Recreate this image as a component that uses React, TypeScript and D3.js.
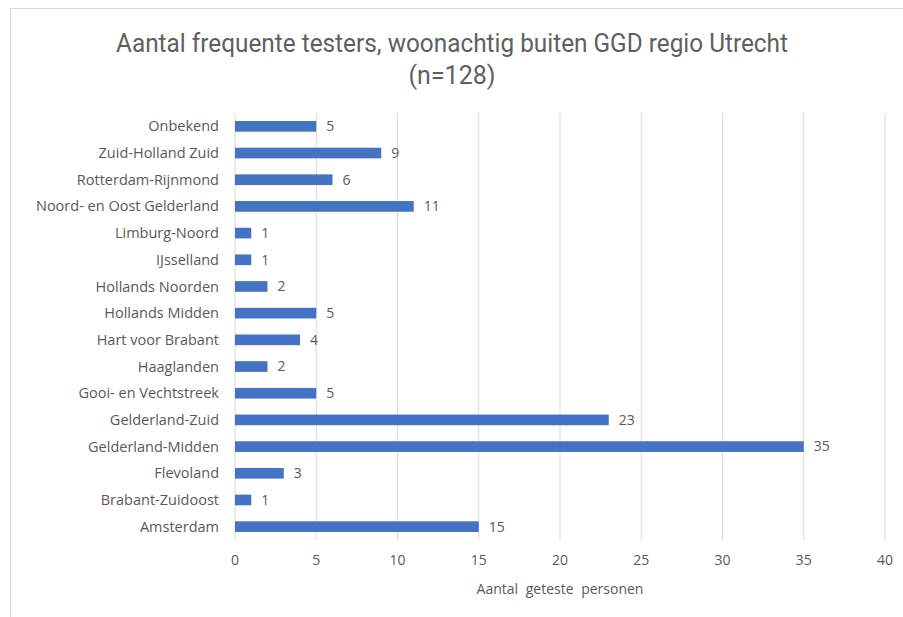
import React from "react";
import * as d3 from "d3";

const categories = [
  "Onbekend",
  "Zuid-Holland Zuid",
  "Rotterdam-Rijnmond",
  "Noord- en Oost Gelderland",
  "Limburg-Noord",
  "IJsselland",
  "Hollands Noorden",
  "Hollands Midden",
  "Hart voor Brabant",
  "Haaglanden",
  "Gooi- en Vechtstreek",
  "Gelderland-Zuid",
  "Gelderland-Midden",
  "Flevoland",
  "Brabant-Zuidoost",
  "Amsterdam",
];
const values = [5, 9, 6, 11, 1, 1, 2, 5, 4, 2, 5, 23, 35, 3, 1, 15];
const xTicks = [0, 5, 10, 15, 20, 25, 30, 35, 40];
const titleLine1 = "Aantal frequente testers, woonachtig buiten GGD regio Utrecht";
const titleLine2 = "(n=128)";
const xAxisTitle = "Aantal geteste personen";

const W = 903;
const H = 617;
const plotLeft = 235;
const plotRight = 885;
const plotTop = 113;
const plotBottom = 540;
const font = "'Open Sans', 'DejaVu Sans', sans-serif";
const textColor = "#595959";

export default function App() {
  const x = d3.scaleLinear().domain([0, 40]).range([plotLeft, plotRight]);
  const y = d3
    .scaleBand<string>()
    .domain(categories)
    .range([plotTop, plotBottom])
    .paddingInner(0.6)
    .paddingOuter(0.3);

  return (
    <svg
      width={W}
      height={H}
      style={{ position: "absolute", left: 0, top: 0, background: "#fff" }}
    >
      <rect x={0} y={0} width={W} height={H} fill="#fff" />
      <rect x={10.5} y={8.5} width={W} height={H} fill="none" stroke="#d9d9d9" strokeWidth={1} />
      <text
        x={452}
        y={52}
        textAnchor="middle"
        fontFamily="'Liberation Sans Narrow', 'Roboto', sans-serif"
        fontSize={25}
        fill="#5f5f5f"
        textLength={672}
        lengthAdjust="spacingAndGlyphs"
      >
        {titleLine1}
      </text>
      <text
        x={452}
        y={84}
        textAnchor="middle"
        fontFamily="'Liberation Sans Narrow', 'Roboto', sans-serif"
        fontSize={25}
        fill="#5f5f5f"
      >
        {titleLine2}
      </text>
      {xTicks.map((t) => (
        <line
          key={"g" + t}
          x1={x(t)}
          x2={x(t)}
          y1={plotTop}
          y2={plotBottom}
          stroke="#d9d9d9"
          strokeWidth={1}
        />
      ))}
      {xTicks.map((t) => (
        <text
          key={"t" + t}
          x={x(t)}
          y={565}
          textAnchor="middle"
          fontFamily={font}
          fontSize={14}
          fill={textColor}
        >
          {t}
        </text>
      ))}
      <text
        x={(plotLeft + plotRight) / 2}
        y={594}
        textAnchor="middle"
        fontFamily={font}
        fontSize={14}
        wordSpacing={4}
        fill={textColor}
      >
        {xAxisTitle}
      </text>
      {categories.map((c, i) => {
        const yy = y(c)!;
        const bw = y.bandwidth();
        return (
          <g key={c}>
            <rect
              x={x(0)}
              y={yy}
              width={x(values[i]) - x(0)}
              height={bw}
              fill="#4472C4"
            />
            <text
              x={219}
              y={yy + bw / 2}
              dy="0.35em"
              textAnchor="end"
              fontFamily={font}
              fontSize={14.5}
              fill={textColor}
            >
              {c}
            </text>
            <text
              x={x(values[i]) + 10}
              y={yy + bw / 2}
              dy="0.35em"
              textAnchor="start"
              fontFamily={font}
              fontSize={14}
              fill={textColor}
            >
              {values[i]}
            </text>
          </g>
        );
      })}
    </svg>
  );
}
